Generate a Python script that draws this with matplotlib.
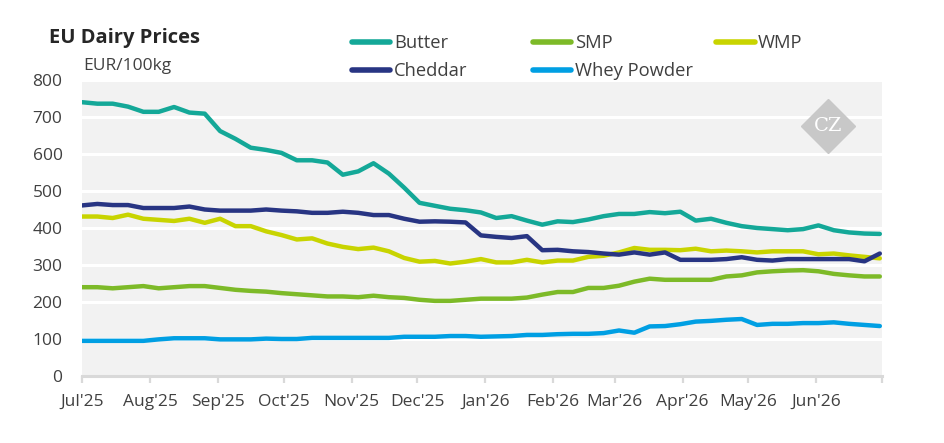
import matplotlib
matplotlib.use("Agg")
import matplotlib.pyplot as plt
import matplotlib.dates as mdates
import numpy as np
import pandas as pd

plt.rcParams['font.family'] = ['Open Sans', 'DejaVu Sans']

dates = pd.date_range("2025-07-01", periods=53, freq="7D")

butter = [740, 736, 736, 728, 714, 714, 727, 712, 709, 662, 641, 617, 611, 603, 583, 583, 577,
          544, 553, 575, 547, 509, 468, 460, 452, 448, 442, 427, 432, 420, 409, 418, 416, 423,
          432, 438, 438, 443, 440, 444, 420, 425, 414, 405, 400, 397, 394, 397, 407, 394, 388,
          385, 384]
cheddar = [461, 465, 462, 462, 454, 454, 454, 458, 450, 447, 447, 447, 450, 447, 445, 441, 441,
           444, 441, 435, 435, 425, 417, 418, 417, 415, 380, 376, 373, 378, 340, 341, 337, 335,
           331, 328, 334, 328, 334, 314, 314, 314, 316, 321, 314, 312, 316, 316, 316, 316, 316,
           310, 331]
smp = [240, 240, 237, 240, 243, 237, 240, 243, 243, 238, 233, 230, 228, 224, 221, 218, 215, 215,
       213, 217, 213, 211, 206, 203, 203, 206, 209, 209, 209, 212, 220, 227, 227, 238, 238, 244,
       255, 263, 260, 260, 260, 260, 269, 272, 280, 283, 285, 286, 283, 276, 272, 269, 269]
wmp = [431, 431, 427, 436, 425, 422, 419, 425, 414, 425, 405, 405, 391, 381, 369, 372, 358, 349,
       343, 347, 337, 319, 309, 311, 304, 309, 316, 307, 307, 314, 307, 312, 312, 322, 325, 334,
       346, 341, 341, 340, 344, 337, 339, 337, 334, 337, 337, 337, 329, 331, 326, 322, 318]
whey = [95, 95, 95, 95, 95, 99, 102, 102, 102, 99, 99, 99, 101, 100, 100, 103, 103, 103, 103,
        103, 103, 106, 106, 106, 108, 108, 106, 107, 108, 111, 111, 113, 114, 114, 116, 123, 117,
        134, 135, 140, 147, 149, 152, 154, 138, 141, 141, 143, 143, 145, 141, 138, 135]

month_ticks = pd.date_range("2025-07-01", "2026-07-01", freq="MS")
month_labels = ["Jul'25", "Aug'25", "Sep'25", "Oct'25", "Nov'25", "Dec'25", "Jan'26",
                "Feb'26", "Mar'26", "Apr'26", "May'26", "Jun'26", ""]
yticks = [0, 100, 200, 300, 400, 500, 600, 700, 800]

series = [("Butter", butter, "#14A898"), ("Cheddar", cheddar, "#283583"),
          ("SMP", smp, "#7DBA28"), ("Whey Powder", whey, "#009FE3"),
          ("WMP", wmp, "#C8D400")]

W, H = 945, 443
fig = plt.figure(figsize=(W / 100, H / 100), dpi=100)
ax = fig.add_axes([82 / W, 1 - 376 / H, 800 / W, 296 / H])
ax.set_facecolor("#F2F2F2")

handles = {}
for name, vals, col in [series[4], series[2], series[3], series[1], series[0]]:
    ln, = ax.plot(dates, vals, color=col, lw=3.2, solid_capstyle="round",
                  solid_joinstyle="round", label=name, zorder=3)
    handles[name] = ln

ax.set_xlim(pd.Timestamp("2025-07-01"), pd.Timestamp("2026-07-01"))
ax.set_ylim(0, 800)
ax.set_yticks(yticks)
ax.set_xticks(month_ticks)
ax.set_xticklabels(month_labels)
ax.grid(axis="y", color="white", lw=2.2, zorder=1)
ax.set_axisbelow(True)
for s in ["top", "right", "left"]:
    ax.spines[s].set_visible(False)
ax.spines["bottom"].set_color("#D9D9D9")
ax.spines["bottom"].set_linewidth(2.2)
ax.tick_params(axis="y", length=0, pad=14, labelsize=12.5, labelcolor="#404040")
ax.tick_params(axis="x", length=5, width=1.6, color="#D9D9D9", pad=8,
               labelsize=12.5, labelcolor="#404040")

fig.text(49 / W, 1 - 43 / H, "EU Dairy Prices", fontsize=14.5, fontweight="bold",
         color="#262626", va="baseline")
fig.text(83 / W, 1 - 70 / H, "EUR/100kg", fontsize=12.5, color="#404040", va="baseline")

legend_cols = [(["Butter", "Cheddar"], 352), (["SMP", "Whey Powder"], 533), (["WMP"], 716)]
for names, x0 in legend_cols:
    lg = fig.legend([handles[n] for n in names], names, loc="upper left",
                    bbox_to_anchor=(x0 / W, 1 - 34 / H), frameon=False, fontsize=13.2,
                    handlelength=2.1, handletextpad=0.2, labelspacing=0.55,
                    borderpad=0, borderaxespad=0, labelcolor="#404040")
    for l in lg.get_lines():
        l.set_linewidth(4)

# watermark
ax.plot([0.9325], [0.845], marker="D", markersize=27, color="#C8C8C8",
        transform=ax.transAxes, clip_on=False, zorder=2)
ax.text(0.9325, 0.845, "CZ", transform=ax.transAxes, fontsize=14, color="white",
        family="DejaVu Serif", ha="center", va="center", zorder=2)

fig.savefig("out.png", dpi=100)
